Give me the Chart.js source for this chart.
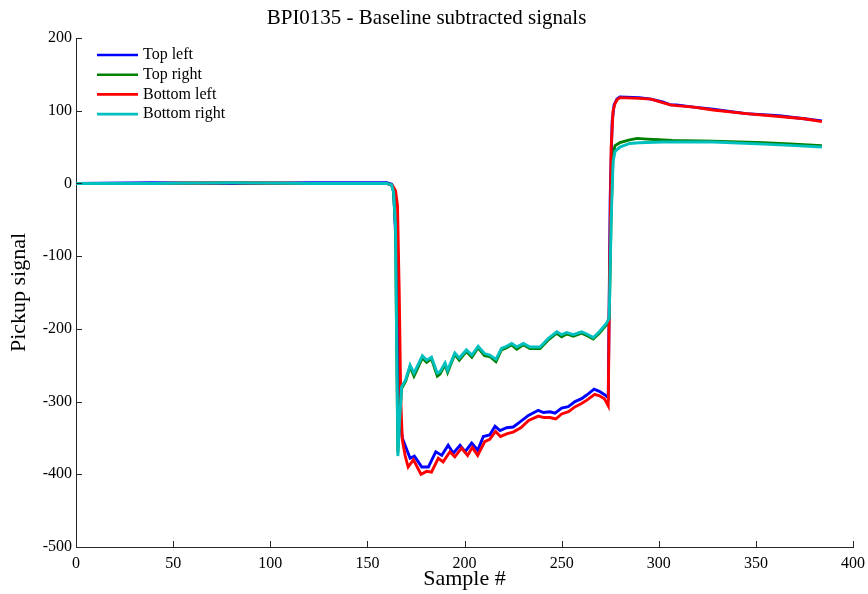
<!DOCTYPE html>
<html>
<head>
<meta charset="utf-8">
<script src="https://cdn.jsdelivr.net/npm/chart.js@4.4.0/dist/chart.umd.min.js"></script>
<style>
  html, body { margin: 0; padding: 0; background: #fff; }
  #wrap { width: 868px; height: 594px; }
</style>
</head>
<body>
<div id="wrap"><canvas id="c"></canvas></div>
<script>
// values (sample number, pickup signal)
const seriesNames = ['Top left', 'Top right', 'Bottom left', 'Bottom right'];
const seriesColors = ['#0000ff', '#008000', '#ff0000', '#00bfbf'];
const xTicks = [0, 50, 100, 150, 200, 250, 300, 350, 400];
const yTicks = [-500, -400, -300, -200, -100, 0, 100, 200];

const topLeftX = [0, 40, 80, 120, 150, 160, 162.5, 163.5, 165, 166, 167, 168, 169.4, 172, 174.2, 176.2, 178, 181.4, 185.2, 188.3, 191.6, 194.2, 197.7, 200.3, 203.7, 206.8, 209.7, 213, 215.7, 218.3, 221.7, 225.1, 228.6, 232.9, 238, 240.6, 244, 246.6, 250, 253.4, 256.9, 260.3, 262.9, 266.7, 269.4, 272.3, 274, 275, 276, 277, 278.5, 280, 290, 296, 302, 306, 309, 318, 328, 345, 362, 375, 384];
const topLeftY = [0, 1, 0, 1, 1, 1, -1, -8, -100, -250, -330, -350, -360, -378, -375, -383, -390, -390, -369, -374, -360, -371, -360, -369, -357, -367, -348, -346, -334, -340, -336, -335, -328, -319, -312, -315, -314, -316, -309, -307, -300, -296, -291, -283, -286, -291, -295, -20, 85, 108, 116, 119, 118, 116, 112, 108, 108, 105, 102, 96, 93, 89, 86];

const topRightX = [0, 40, 80, 120, 150, 160, 162.5, 163.5, 164.5, 165, 165.7, 166.5, 167.6, 169.7, 172, 174, 178.3, 180.5, 183, 186, 187.4, 190, 191.3, 195, 197.3, 201, 203.8, 207, 210.3, 213, 216.2, 219, 221.7, 224.3, 226.9, 230.3, 233.7, 238.9, 243.2, 247.5, 250, 252.6, 256, 260.3, 263.7, 266.3, 269.4, 273.2, 274.5, 275.5, 276.5, 277.5, 280, 285, 289, 294, 300, 307, 328, 354, 370, 384];
const topRightY = [0, 0, 1, 0, 0, 0, -2, -12, -60, -200, -370, -330, -282, -272, -252, -265, -240, -246, -241, -265, -262, -249, -260, -235, -243, -231, -239, -226, -237, -238, -245, -229, -226, -222, -228, -222, -227, -227, -215, -206, -211, -207, -210, -206, -210, -214, -206, -194, -186, -40, 40, 52, 56, 60, 62, 61, 60, 59, 58, 56, 54, 52];

const bottomLeftX = [0, 40, 80, 120, 150, 160, 163, 164.5, 165.5, 166.4, 167.2, 168, 169.5, 171, 173.7, 177.6, 180.5, 183, 186.5, 189, 192.5, 195, 198.5, 201.6, 204, 206.8, 210.4, 213, 216, 218.5, 222, 225, 229, 233, 238, 241, 244, 247, 250, 253.5, 257, 260, 263, 267, 269.5, 272, 274, 274.6, 275.5, 276.5, 277.5, 278.5, 280, 290, 296, 302, 306, 309, 318, 328, 345, 362, 375, 384];
const bottomLeftY = [0, 0, 1, 0, 0, 0, -3, -10, -30, -150, -300, -353, -375, -390, -380, -400, -396, -397, -378, -383, -369, -376, -364, -374, -363, -374, -355, -352, -341, -348, -344, -342, -336, -326, -320, -322, -322, -324, -317, -314, -307, -303, -298, -290, -292, -296, -306, -150, 50, 100, 110, 115, 118, 117, 116, 111, 108, 107, 105, 101, 96, 92, 89, 85];

const bottomRightX = [0, 40, 80, 120, 150, 160, 162.5, 163.5, 164.5, 165, 165.7, 166.5, 167.6, 169.7, 172, 174, 178.3, 180.5, 183, 186, 187.4, 190, 191.3, 195, 197.3, 201, 203.8, 207, 210.3, 213, 216.2, 219, 221.7, 224.3, 226.9, 230.3, 233.7, 238.9, 243.2, 247.5, 250, 252.6, 256, 260.3, 263.7, 266.3, 269.4, 273.2, 274.5, 275.5, 276.5, 277.5, 280, 285, 290, 302, 328, 354, 370, 384];
const bottomRightY = [0, 0, 1, 0, 0, 0, -2, -12, -60, -200, -375, -330, -280, -270, -250, -261, -237, -243, -239, -261, -259, -247, -257, -233, -240, -229, -236, -224, -234, -236, -242, -227, -224, -220, -225, -220, -225, -225, -213, -204, -208, -205, -208, -204, -208, -212, -204, -192, -185, -50, 30, 44, 50, 55, 56, 57, 57, 54, 52, 50];

const allX = [topLeftX, topRightX, bottomLeftX, bottomRightX];
const allY = [topLeftY, topRightY, bottomLeftY, bottomRightY];
const drawOrder = [3, 2, 1, 0]; // cyan on top, then red, green, blue

const serif = '"Liberation Serif", "DejaVu Serif", serif';
const axisColor = '#262626';

// MATLAB style ticks pointing into the plot
const inwardTicks = {
  id: 'inwardTicks',
  afterDatasetsDraw(chart) {
    const ctx = chart.ctx;
    const xs = chart.scales.x, ys = chart.scales.y;
    const area = chart.chartArea;
    ctx.save();
    ctx.strokeStyle = axisColor;
    ctx.lineWidth = 1;
    ctx.beginPath();
    xs.ticks.forEach(t => {
      const px = Math.round(xs.getPixelForValue(t.value)) + 0.5;
      ctx.moveTo(px, area.bottom);
      ctx.lineTo(px, area.bottom - 6);
    });
    ys.ticks.forEach(t => {
      const py = Math.round(ys.getPixelForValue(t.value)) + 0.5;
      ctx.moveTo(area.left, py);
      ctx.lineTo(area.left + 6, py);
    });
    ctx.stroke();
    ctx.restore();
  }
};

// legend box in the upper left corner of the axes
const cornerLegend = {
  id: 'cornerLegend',
  afterDraw(chart) {
    const ctx = chart.ctx;
    ctx.save();
    ctx.font = '16px ' + serif;
    ctx.textBaseline = 'middle';
    ctx.lineWidth = 2.6;
    seriesNames.forEach((name, i) => {
      const yy = 55 + i * 19.7;
      ctx.strokeStyle = seriesColors[i];
      ctx.beginPath();
      ctx.moveTo(97, yy);
      ctx.lineTo(138, yy);
      ctx.stroke();
      ctx.fillStyle = '#000';
      ctx.fillText(name, 143, yy);
    });
    ctx.restore();
  }
};

const datasets = seriesNames.map((name, i) => ({
  label: name,
  data: allX[i].map((x, j) => ({ x: x, y: allY[i][j] })),
  borderColor: seriesColors[i],
  backgroundColor: seriesColors[i],
  borderWidth: 2.9,
  pointRadius: 0,
  showLine: true,
  tension: 0,
  order: drawOrder[i]
}));

new Chart(document.getElementById('c'), {
  type: 'scatter',
  data: { datasets: datasets },
  options: {
    responsive: true,
    maintainAspectRatio: false,
    animation: false,
    layout: { padding: { left: 0, right: 15, top: 0, bottom: 0 } },
    plugins: {
      legend: { display: false },
      tooltip: { enabled: false },
      title: {
        display: true,
        text: 'BPI0135 - Baseline subtracted signals',
        color: '#000',
        font: { family: serif, size: 21, weight: 'normal' },
        padding: { top: 5.4, bottom: 7.4 }
      }
    },
    scales: {
      x: {
        type: 'linear',
        min: 0, max: 400,
        afterBuildTicks: s => { s.ticks = xTicks.map(v => ({ value: v })); },
        afterFit: s => { s.height = 47; s.paddingRight = 0; s.paddingLeft = 0; },
        grid: { display: false, drawTicks: false },
        border: { display: true, color: axisColor, width: 1 },
        ticks: { color: '#000', padding: 7, maxRotation: 0, font: { family: serif, size: 16 } },
        title: {
          display: true, text: 'Sample #', color: '#000',
          font: { family: serif, size: 22 },
          padding: { top: 0, bottom: 1.5 }
        }
      },
      y: {
        type: 'linear',
        min: -500, max: 200,
        afterBuildTicks: s => { s.ticks = yTicks.map(v => ({ value: v })); },
        afterFit: s => { s.width = 76; },
        grid: { display: false, drawTicks: false },
        border: { display: true, color: axisColor, width: 1 },
        ticks: { color: '#000', padding: 4, font: { family: serif, size: 16 } },
        title: {
          display: true, text: 'Pickup signal', color: '#000',
          font: { family: serif, size: 22 },
          padding: { top: 6, bottom: 0 }
        }
      }
    }
  },
  plugins: [inwardTicks, cornerLegend]
});
</script>
</body>
</html>
